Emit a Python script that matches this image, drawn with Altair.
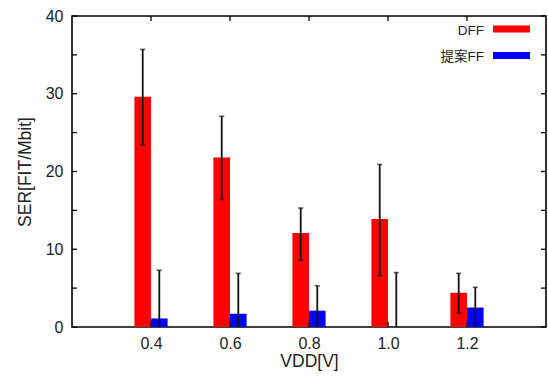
import altair as alt
import pandas as pd

# ---- data ----
vdd = [0.4, 0.6, 0.8, 1.0, 1.2]
series = ["DFF", "提案FF"]
dff_val = [29.6, 21.8, 12.1, 13.9, 4.4]
dff_lo = [23.4, 16.4, 8.6, 6.6, 1.8]
dff_hi = [35.7, 27.1, 15.3, 20.9, 6.9]
prop_val = [1.1, 1.7, 2.1, 0.0, 2.5]
prop_lo = [0.0, 0.0, 0.0, 0.0, 0.0]
prop_hi = [7.3, 6.9, 5.3, 7.0, 5.1]
colors = ["#ff0000", "#0000ff"]
x_ticks = [0.4, 0.6, 0.8, 1.0, 1.2]
y_labels = [0, 10, 20, 30, 40]
y_ticks = [0, 5, 10, 15, 20, 25, 30, 35, 40]

rows = []
for i, v in enumerate(vdd):
    rows.append(dict(vdd=v, series=series[0], idx=0, value=dff_val[i], lo=dff_lo[i], hi=dff_hi[i]))
    rows.append(dict(vdd=v, series=series[1], idx=1, value=prop_val[i], lo=prop_lo[i], hi=prop_hi[i]))
df = pd.DataFrame(rows)

W, H = 474, 311
BW = 0.042
FONT = "Liberation Sans, Arial, 'Noto Sans CJK JP', sans-serif"
TXT = "#222222"

xscale = alt.Scale(domain=[0.2, 1.4], nice=False, zero=False)
yscale = alt.Scale(domain=[0, 40], nice=False)
cscale = alt.Scale(domain=series, range=colors)
xaxis = alt.Axis(values=x_ticks, format=".1f", title="VDD[V]", ticks=False,
                 domain=False, grid=False, labelPadding=8, titlePadding=1)
yaxis = alt.Axis(values=y_labels, title="SER[FIT/Mbit]", ticks=False,
                 domain=False, grid=False, labelPadding=9, titlePadding=11)

base = alt.Chart(df).transform_calculate(
    x0=f"datum.vdd + (datum.idx - 1) * {BW}",
    x1=f"datum.vdd + datum.idx * {BW}",
    xc=f"datum.vdd + (datum.idx - 0.5) * {BW}",
)

bars = base.mark_rect().encode(
    x=alt.X("x0:Q", scale=xscale, axis=xaxis),
    x2="x1:Q",
    y=alt.Y("value:Q", scale=yscale, axis=yaxis),
    y2=alt.datum(0),
    color=alt.Color("series:N", scale=cscale, legend=None),
)

err = base.mark_rule(color="#111111", strokeWidth=1.8).encode(
    x=alt.X("xc:Q", scale=xscale, axis=xaxis),
    y=alt.Y("lo:Q", scale=yscale, axis=yaxis),
    y2="hi:Q",
)
cap_hi = base.mark_tick(orient="horizontal", size=5, thickness=1.6, color="#111111").encode(
    x=alt.X("xc:Q", scale=xscale, axis=xaxis),
    y=alt.Y("hi:Q", scale=yscale, axis=yaxis),
)
cap_lo = base.transform_filter("datum.lo > 0").mark_tick(
    orient="horizontal", size=5, thickness=1.6, color="#111111").encode(
    x=alt.X("xc:Q", scale=xscale, axis=xaxis),
    y=alt.Y("lo:Q", scale=yscale, axis=yaxis),
)

# inward axis ticks (gnuplot style), mirrored
ytdf = pd.DataFrame({"v": y_ticks})
xtdf = pd.DataFrame({"v": x_ticks})
TL = 5
yt_left = alt.Chart(ytdf).mark_rule(color="black", strokeWidth=1.3).encode(
    y=alt.Y("v:Q", scale=yscale, axis=yaxis), x=alt.value(0), x2=alt.value(TL))
yt_right = alt.Chart(ytdf).mark_rule(color="black", strokeWidth=1.3).encode(
    y=alt.Y("v:Q", scale=yscale, axis=yaxis), x=alt.value(W - TL), x2=alt.value(W))
xt_bot = alt.Chart(xtdf).mark_rule(color="black", strokeWidth=1.3).encode(
    x=alt.X("v:Q", scale=xscale, axis=xaxis), y=alt.value(H), y2=alt.value(H - TL))
xt_top = alt.Chart(xtdf).mark_rule(color="black", strokeWidth=1.3).encode(
    x=alt.X("v:Q", scale=xscale, axis=xaxis), y=alt.value(0), y2=alt.value(TL))

# key (top-right, gnuplot style: label then swatch)
legend_layers = []
for i, (s, c) in enumerate(zip(series, colors)):
    ly = 13 + 26.5 * i
    ldf = pd.DataFrame({"series": [s]})
    legend_layers.append(
        alt.Chart(ldf).mark_text(align="right", baseline="middle", fontSize=13.5,
                                 font=FONT, color=TXT).encode(
            text="series:N", x=alt.value(412), y=alt.value(ly + 1.5)))
    legend_layers.append(
        alt.Chart(ldf).mark_rule(strokeWidth=7, color=c).encode(
            x=alt.value(421), x2=alt.value(458), y=alt.value(ly)))

chart = alt.layer(
    bars, err, cap_hi, cap_lo, yt_left, yt_right, xt_bot, xt_top, *legend_layers
).properties(
    width=W, height=H,
    autosize=alt.AutoSizeParams(type="none"),
    padding={"left": 72, "top": 16, "right": 2, "bottom": 49},
    background="white",
).configure_view(
    stroke="black", strokeWidth=1.6
).configure_axis(
    labelFont=FONT, titleFont=FONT, labelFontSize=16, titleFontSize=17.5,
    labelColor=TXT, titleColor=TXT, titleFontWeight="normal",
)

chart.save("out.html", embed_options={"renderer": "svg", "actions": False})
